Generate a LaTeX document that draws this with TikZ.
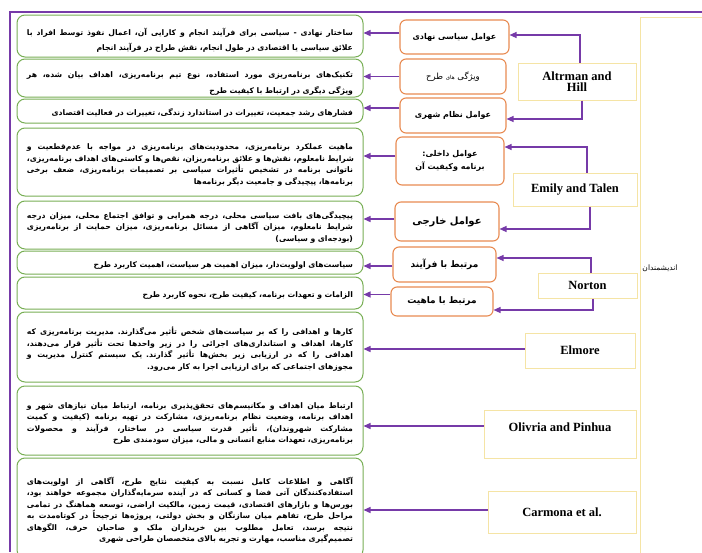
\documentclass[tikz,border=0pt]{standalone}
\usepackage{fontspec}
\usetikzlibrary{arrows.meta}
\TeXXeTstate=1
\newfontfamily\fa[Script=Arabic]{DejaVu Sans}
\newfontfamily\en{Liberation Serif}
\definecolor{purp}{RGB}{118,58,168}
\definecolor{org}{RGB}{232,139,82}
\definecolor{grn}{RGB}{120,175,85}
\definecolor{ylw}{RGB}{245,228,165}
\newcommand\RLj[1]{\par\hbox to\hsize{\spaceskip=\fontdimen2\font plus 1fil\relax\beginR #1\endR}}
\newcommand\RLe[1]{\par\hbox to\hsize{\hfill\beginR #1\endR}}
\tikzset{
  gbox/.style={draw=grn, line width=1pt, rounded corners=8pt, fill=white,
    text width=326pt, inner xsep=10pt, inner ysep=0pt, minimum width=346pt,
    font=\fa\bfseries\fontsize{7.7}{11.5}\selectfont},
  obox/.style={draw=org, line width=1.1pt, rounded corners=6pt, fill=white,
    inner sep=0pt, align=center, font=\fa\bfseries\fontsize{8}{12}\selectfont},
  abox/.style={draw=ylw, line width=1pt, fill=white, inner sep=0pt, align=center,
    font=\en\bfseries\fontsize{12.5}{11}\selectfont},
  arr/.style={draw=purp, line width=1.3pt, -{Triangle[length=7pt,width=6pt]}},
}
\begin{document}
\begin{tikzpicture}[x=1pt,y=-1pt]
\useasboundingbox (0,0) rectangle (702,552);
% frame lines
\coordinate (tl) at (10,12);
\coordinate (tr) at (702,12);
\coordinate (bl) at (10,552);
\draw[purp, line width=2.5pt] (tr) -- (tl) -- (bl);
% big right box
\node[draw=ylw, line width=1pt, fill=white, minimum width=72pt, minimum height=543pt] (big) at (676,288.5) {};
\node[font=\fa\fontsize{7.5}{9}\selectfont] (thinkers) at (660,268) {\beginR اندیشمندان\endR};

% green boxes
\node[gbox, minimum height=42pt] (g1) at (190,36) {\baselineskip=15pt
\RLj{ساختار نهادی - سیاسی برای فرآیند انجام و کارایی آن، اعمال نفوذ توسط افراد با}
\RLe{علائق سیاسی یا اقتصادی در طول انجام، نقش طراح در فرآیند انجام}};
\node[gbox, minimum height=38pt] (g2) at (190,78) {\baselineskip=16pt
\RLj{تکنیک‌های برنامه‌ریزی مورد استفاده، نوع تیم برنامه‌ریزی، اهداف بیان شده، هر}
\RLe{ویژگی دیگری در ارتباط با کیفیت طرح}};
\node[gbox, minimum height=24pt] (g3) at (190,111) {%
\RLe{فشارهای رشد جمعیت، تغییرات در استاندارد زندگی، تغییرات در فعالیت اقتصادی}};
\node[gbox, minimum height=68pt] (g4) at (190,162) {%
\RLj{ماهیت عملکرد برنامه‌ریزی، محدودیت‌های برنامه‌ریزی در مواجه با عدم‌قطعیت و}
\RLj{شرایط نامعلوم، نقش‌ها و علائق برنامه‌ریزان، نقص‌ها و کاستی‌های اهداف برنامه‌ریزی،}
\RLj{ناتوانی برنامه در تشخیص تأثیرات سیاسی بر تصمیمات برنامه‌ریزی، ضعف برخی}
\RLe{برنامه‌ها، پیچیدگی و جامعیت دیگر برنامه‌ها}};
\node[gbox, minimum height=48pt] (g5) at (190,225) {%
\RLj{پیچیدگی‌های بافت سیاسی محلی، درجه همرایی و توافق اجتماع محلی، میزان درجه}
\RLj{شرایط نامعلوم، میزان آگاهی از مسائل برنامه‌ریزی، میزان حمایت از برنامه‌ریزی}
\RLe{(بودجه‌ای و سیاسی)}};
\node[gbox, minimum height=23pt] (g6) at (190,262.5) {%
\RLe{سیاست‌های اولویت‌دار، میزان اهمیت هر سیاست، اهمیت کاربرد طرح}};
\node[gbox, minimum height=32pt] (g7) at (190,293) {%
\RLe{الزامات و تعهدات برنامه، کیفیت طرح، نحوه کاربرد طرح}};
\node[gbox, minimum height=70pt] (g8) at (190,347) {%
\RLj{کارها و اهدافی را که بر سیاست‌های شخص تأثیر می‌گذارند. مدیریت برنامه‌ریزی که}
\RLj{کارها، اهداف و استانداری‌های اجرائی را در زیر واحدها تحت تأثیر قرار می‌دهند،}
\RLj{اهدافی را که در ارزیابی زیر بخش‌ها تأثیر گذارند. یک سیستم کنترل مدیریت و}
\RLe{مجوزهای اجتماعی که برای ارزیابی اجرا به کار می‌رود.}};
\node[gbox, minimum height=69pt] (g9) at (190,420.5) {%
\RLj{ارتباط میان اهداف و مکانیسم‌های تحقق‌پذیری برنامه، ارتباط میان نیازهای شهر و}
\RLj{اهداف برنامه، وضعیت نظام برنامه‌ریزی، مشارکت در تهیه برنامه (کیفیت و کمیت}
\RLj{مشارکت شهروندان)، تأثیر قدرت سیاسی در ساختار، فرآیند و محصولات}
\RLe{برنامه‌ریزی، تعهدات منابع انسانی و مالی، میزان سودمندی طرح}};
\node[gbox, minimum height=100pt] (g10) at (190,508) {%
\RLj{آگاهی و اطلاعات کامل نسبت به کیفیت نتایج طرح، آگاهی از اولویت‌های}
\RLj{استفاده‌کنندگان آتی فضا و کسانی که در آینده سرمایه‌گذاران مجموعه خواهند بود،}
\RLj{بورس‌ها و بازارهای اقتصادی، قیمت زمین، مالکیت اراضی، توسعه هماهنگ در تمامی}
\RLj{مراحل طرح، تفاهم میان سازنگان و بخش دولتی، پروژه‌ها ترجیحاً در کوتاه‌مدت به}
\RLj{نتیجه برسد، تعامل مطلوب بین خریداران ملک و صاحبان حرف، الگوهای}
\RLe{تصمیم‌گیری مناسب، مهارت و تجربه بالای متخصصان طراحی شهری}};

% orange boxes
\node[obox, minimum width=109pt, minimum height=34pt] (o1) at (454.5,37) {\beginR عوامل سیاسی نهادی\endR};
\node[obox, minimum width=106pt, minimum height=35pt, font=\fa\fontsize{8.5}{12}\selectfont] (o2) at (453,76.5) {\beginR ویژگی {\fontsize{5.5}{6}\selectfont های} طرح\endR};
\node[obox, minimum width=106pt, minimum height=35pt] (o3) at (453,115.5) {\beginR عوامل نظام شهری\endR};
\node[obox, minimum width=108pt, minimum height=48pt, font=\fa\bfseries\fontsize{8}{13}\selectfont] (o4) at (450,161) {\beginR عوامل داخلی:\endR\\\beginR برنامه وکیفیت آن\endR};
\node[obox, minimum width=104pt, minimum height=39pt, font=\fa\bfseries\fontsize{10}{12}\selectfont] (o5) at (447,221.5) {\beginR عوامل خارجی\endR};
\node[obox, minimum width=103pt, minimum height=35pt, font=\fa\bfseries\fontsize{9}{12}\selectfont] (o6) at (444.5,264.5) {\beginR مرتبط با فرآیند\endR};
\node[obox, minimum width=102pt, minimum height=29pt, font=\fa\bfseries\fontsize{9}{12}\selectfont] (o7) at (442,301.5) {\beginR مرتبط با ماهیت\endR};

% author boxes
\node[abox, minimum width=118pt, minimum height=37pt] (a1) at (577,81.5) {Altrman and\\Hill};
\node[abox, minimum width=124pt, minimum height=33pt] (a2) at (575,189.5) {Emily and Talen};
\node[abox, minimum width=99pt, minimum height=25pt] (a3) at (587.5,285.5) {Norton};
\node[abox, minimum width=110pt, minimum height=35pt] (a4) at (580,350.5) {Elmore};
\node[abox, minimum width=152pt, minimum height=48pt] (a5) at (560,434) {};
\node[font=\en\bfseries\fontsize{12.5}{11}\selectfont] (a5t) at (560,427) {Olivria and Pinhua};
\node[abox, minimum width=148pt, minimum height=42pt] (a6) at (562,512) {Carmona et al.};

% orange -> green arrows
\coordinate (s1) at ([yshift=4pt]o1.west);
\coordinate (s2) at (o2.west);
\coordinate (s3) at ([yshift=7.5pt]o3.west);
\coordinate (s4) at ([yshift=5pt]o4.west);
\coordinate (s5) at ([yshift=2.5pt]o5.west);
\coordinate (s6) at ([yshift=-1.5pt]o6.west);
\coordinate (s7) at ([yshift=7pt]o7.west);
\draw[arr] (s1) -- (s1 -| g1.east);
\draw[arr] (s2) -- (s2 -| g2.east);
\draw[arr] (s3) -- (s3 -| g3.east);
\draw[arr] (s4) -- (s4 -| g4.east);
\draw[arr] (s5) -- (s5 -| g5.east);
\draw[arr] (s6) -- (s6 -| g6.east);
\draw[arr] (s7) -- (s7 -| g7.east);

% author -> orange connectors
\draw[arr] ([xshift=3pt]a1.north) |- ([yshift=2pt]o1.east);
\draw[arr] ([xshift=5pt]a1.south) |- ([yshift=-3.5pt]o3.east);
\draw[arr] ([xshift=12pt]a2.north) |- ([yshift=14pt]o4.east);
\draw[arr] ([xshift=15pt]a2.south) |- ([yshift=-7.5pt]o5.east);
\draw[arr] ([xshift=3.5pt]a3.north) |- ([yshift=6.5pt]o6.east);
\draw[arr] ([xshift=5.5pt]a3.south) |- ([yshift=-8.5pt]o7.east);

% author -> green arrows
\coordinate (e4) at ([yshift=1.5pt]a4.west);
\coordinate (e5) at ([yshift=8pt]a5.west);
\coordinate (e6) at ([yshift=2pt]a6.west);
\draw[arr] (e4) -- (e4 -| g8.east);
\draw[arr] (e5) -- (e5 -| g9.east);
\draw[arr] (e6) -- (e6 -| g10.east);
\end{tikzpicture}
\end{document}
